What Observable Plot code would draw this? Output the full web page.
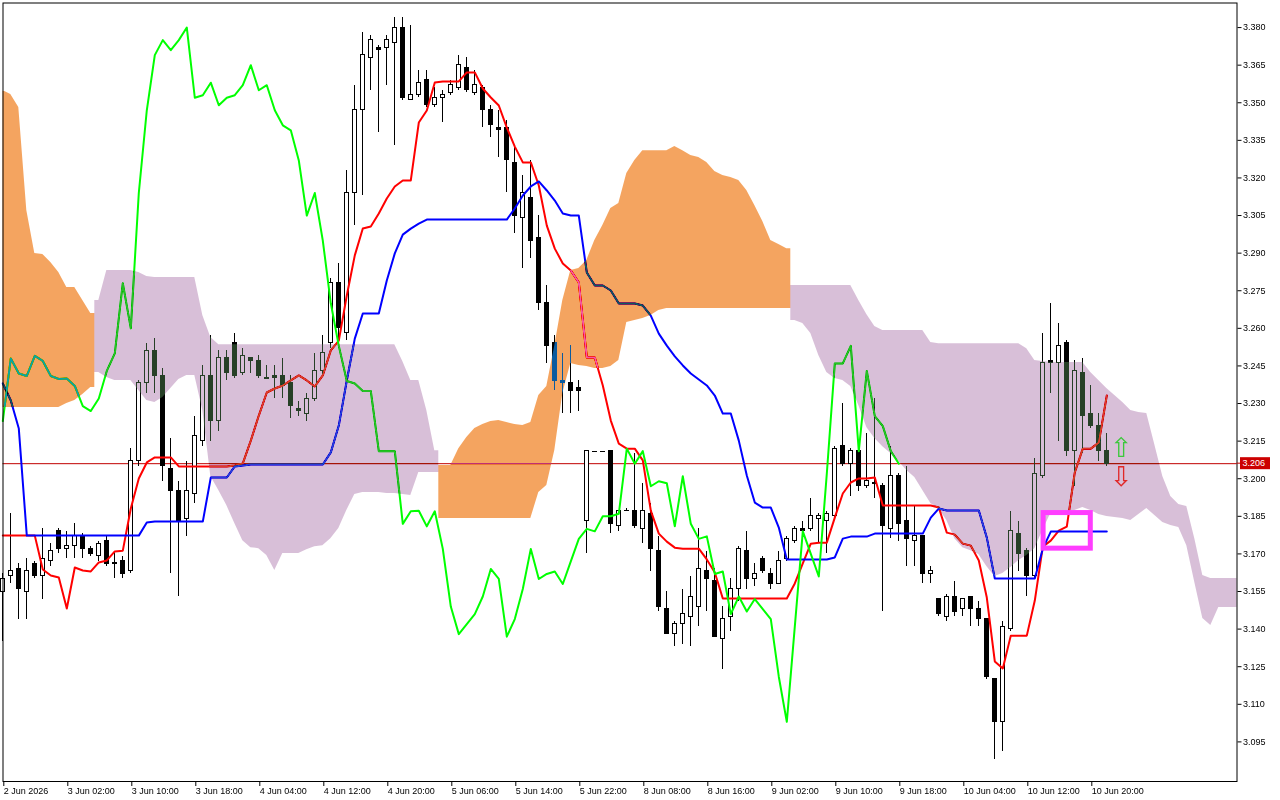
<!DOCTYPE html>
<html><head><meta charset="utf-8">
<script src="https://cdn.jsdelivr.net/npm/d3@7"></script>
<script src="https://cdn.jsdelivr.net/npm/@observablehq/plot@0.6"></script>
<style>
html,body{margin:0;padding:0;background:#fff;}
#chart{width:1280px;height:800px;}
</style></head><body><div id="chart"></div>
<script>
const timeLabels = ["2 Jun 2026","3 Jun 02:00","3 Jun 10:00","3 Jun 18:00","4 Jun 04:00","4 Jun 12:00","4 Jun 20:00","5 Jun 06:00","5 Jun 14:00","5 Jun 22:00","8 Jun 08:00","8 Jun 16:00","9 Jun 02:00","9 Jun 10:00","9 Jun 18:00","10 Jun 04:00","10 Jun 12:00","10 Jun 20:00"];
const labelBars = [0,8,16,24,32,40,48,56,64,72,80,88,96,104,112,120,128,136];
const priceTicks = [3.095,3.110,3.125,3.140,3.155,3.170,3.185,3.200,3.215,3.230,3.245,3.260,3.275,3.290,3.305,3.320,3.335,3.350,3.365,3.380];

const open = [3.155,3.161,3.164,3.155,3.166,3.161,3.167,3.179,3.172,3.173,3.177,3.172,3.169,3.175,3.166,3.167,3.163,3.207,3.238,3.251,
3.241,3.204,3.195,3.184,3.194,3.215,3.241,3.223,3.248,3.254,3.242,3.248,3.247,3.240,3.241,3.241,3.238,3.228,3.226,3.232,
3.243,3.254,3.278,3.258,3.314,3.347,3.368,3.372,3.372,3.374,3.380,3.351,3.353,3.359,3.349,3.352,3.354,3.356,3.364,3.354,
3.356,3.347,3.340,3.340,3.326,3.304,3.312,3.296,3.270,3.254,3.239,3.238,3.236,3.183,3.211,3.211,3.211,3.181,3.187,3.187,
3.180,3.186,3.171,3.148,3.138,3.142,3.145,3.149,3.163,3.159,3.136,3.145,3.156,3.171,3.160,3.168,3.162,3.158,3.168,3.175,
3.180,3.180,3.184,3.183,3.185,3.213,3.206,3.211,3.197,3.198,3.197,3.180,3.201,3.183,3.175,3.177,3.162,3.152,3.145,3.153,
3.148,3.153,3.148,3.144,3.120,3.103,3.140,3.178,3.171,3.161,3.201,3.247,3.246,3.254,3.211,3.242,3.226,3.221,3.211];
const high = [3.162,3.186,3.166,3.168,3.167,3.180,3.174,3.180,3.179,3.182,3.178,3.173,3.175,3.177,3.171,3.169,3.212,3.239,3.254,3.256,
3.244,3.216,3.199,3.207,3.225,3.245,3.257,3.251,3.251,3.258,3.252,3.248,3.249,3.245,3.245,3.248,3.241,3.231,3.234,3.250,
3.257,3.280,3.286,3.323,3.357,3.378,3.377,3.373,3.377,3.384,3.384,3.381,3.363,3.363,3.356,3.355,3.359,3.369,3.368,3.363,
3.357,3.349,3.347,3.343,3.332,3.321,3.327,3.305,3.277,3.257,3.250,3.253,3.239,3.211,3.211,3.211,3.211,3.187,3.188,3.210,
3.198,3.190,3.177,3.155,3.143,3.156,3.161,3.180,3.171,3.164,3.149,3.160,3.173,3.179,3.166,3.169,3.164,3.171,3.177,3.181,
3.183,3.192,3.186,3.187,3.213,3.230,3.212,3.212,3.218,3.232,3.198,3.213,3.202,3.205,3.189,3.177,3.165,3.152,3.154,3.159,
3.152,3.153,3.151,3.144,3.120,3.143,3.187,3.183,3.172,3.208,3.258,3.270,3.262,3.255,3.247,3.248,3.237,3.226,3.218];
const low = [3.135,3.158,3.144,3.144,3.160,3.152,3.165,3.170,3.168,3.168,3.168,3.169,3.167,3.165,3.160,3.160,3.162,3.205,3.234,3.234,
3.199,3.162,3.153,3.177,3.190,3.213,3.215,3.219,3.239,3.240,3.241,3.242,3.240,3.2395,3.232,3.232,3.224,3.225,3.223,3.231,
3.241,3.252,3.255,3.255,3.301,3.313,3.355,3.338,3.357,3.333,3.351,3.351,3.352,3.348,3.348,3.342,3.353,3.355,3.354,3.353,
3.340,3.336,3.328,3.314,3.298,3.284,3.288,3.267,3.246,3.235,3.226,3.226,3.227,3.170,3.211,3.211,3.178,3.179,3.187,3.180,
3.174,3.163,3.147,3.138,3.133,3.134,3.133,3.141,3.147,3.137,3.124,3.139,3.151,3.156,3.157,3.162,3.156,3.158,3.167,3.174,
3.178,3.179,3.174,3.170,3.184,3.205,3.193,3.195,3.196,3.192,3.147,3.176,3.175,3.165,3.165,3.158,3.158,3.145,3.143,3.145,
3.145,3.141,3.141,3.120,3.088,3.091,3.139,3.163,3.153,3.160,3.200,3.234,3.215,3.209,3.197,3.210,3.220,3.207,3.205];
const close = [3.160,3.163,3.156,3.163,3.161,3.168,3.171,3.172,3.173,3.177,3.172,3.170,3.174,3.166,3.1665,3.162,3.207,3.238,3.251,3.241,
3.205,3.195,3.183,3.195,3.217,3.241,3.223,3.248,3.242,3.241,3.249,3.247,3.241,3.2398,3.240,3.237,3.229,3.227,3.232,3.243,
3.250,3.278,3.260,3.314,3.347,3.369,3.375,3.371,3.375,3.380,3.352,3.353,3.358,3.349,3.352,3.353,3.357,3.365,3.355,3.357,
3.347,3.341,3.339,3.327,3.305,3.314,3.295,3.270,3.253,3.239,3.238,3.235,3.235,3.211,3.211,3.211,3.182,3.187,3.1872,3.181,
3.187,3.172,3.149,3.138,3.142,3.146,3.153,3.164,3.160,3.137,3.144,3.156,3.172,3.160,3.162,3.163,3.158,3.167,3.176,3.180,
3.179,3.185,3.185,3.186,3.212,3.206,3.211,3.197,3.199,3.1982,3.181,3.201,3.182,3.176,3.177,3.162,3.163,3.146,3.153,3.147,
3.152,3.148,3.144,3.121,3.103,3.141,3.179,3.170,3.161,3.202,3.246,3.246,3.253,3.211,3.243,3.225,3.221,3.211,3.206];

const tenkan = [3.1773,3.1773,3.1773,3.1773,3.1773,3.1638,3.1614,3.1606,3.1482,3.1646,3.1634,3.1630,3.1666,3.1674,3.1710,3.1713,3.1881,3.2001,3.2065,3.2085,
3.2085,3.2085,3.2049,3.2049,3.2049,3.2049,3.2049,3.2049,3.2049,3.2053,3.2061,3.2152,3.2252,3.2344,3.2360,3.2372,3.2392,3.2412,3.2392,3.2368,
3.2412,3.2512,3.2551,3.2731,3.2891,3.2998,3.3006,3.3058,3.3118,3.3166,3.3190,3.3190,3.3421,3.3469,3.3581,3.3585,3.3585,3.3585,3.3621,3.3621,
3.3557,3.3521,3.3489,3.3401,3.3325,3.3262,3.3262,3.3170,3.3010,3.2918,3.2859,3.2831,3.2783,3.2484,3.2484,3.2372,3.2232,3.2140,3.2120,3.2120,
3.2073,3.1873,3.1781,3.1749,3.1725,3.1721,3.1721,3.1721,3.1678,3.1626,3.1522,3.1522,3.1522,3.1522,3.1522,3.1522,3.1522,3.1522,3.1522,3.1582,
3.1662,3.1741,3.1745,3.1745,3.1845,3.1941,3.1985,3.2001,3.2001,3.2005,3.1893,3.1893,3.1893,3.1893,3.1893,3.1893,3.1893,3.1885,3.1785,3.1777,
3.1741,3.1733,3.1674,3.1526,3.1271,3.1243,3.1374,3.1374,3.1374,3.1514,3.1729,3.1753,3.1793,3.1809,3.2025,3.2120,3.2120,3.2144,3.2332];
const kijun = [3.2380,3.2312,3.2200,3.1773,3.1773,3.1773,3.1773,3.1773,3.1773,3.1773,3.1773,3.1773,3.1773,3.1773,3.1773,3.1773,3.1773,3.1773,3.1825,3.1829,
3.1829,3.1829,3.1829,3.1829,3.1829,3.1829,3.2005,3.2005,3.2005,3.2049,3.2053,3.2057,3.2057,3.2057,3.2057,3.2057,3.2057,3.2057,3.2057,3.2057,
3.2057,3.2105,3.2212,3.2392,3.2559,3.2659,3.2659,3.2659,3.2791,3.2899,3.2974,3.2998,3.3018,3.3034,3.3034,3.3034,3.3034,3.3034,3.3034,3.3034,
3.3034,3.3034,3.3034,3.3034,3.3078,3.3130,3.3166,3.3186,3.3150,3.3110,3.3058,3.3050,3.3050,3.2823,3.2771,3.2771,3.2751,3.2699,3.2699,3.2699,
3.2691,3.2651,3.2579,3.2531,3.2488,3.2452,3.2420,3.2396,3.2372,3.2332,3.2260,3.2260,3.2152,3.2013,3.1905,3.1885,3.1885,3.1805,3.1678,3.1678,
3.1678,3.1678,3.1678,3.1678,3.1686,3.1761,3.1769,3.1769,3.1769,3.1781,3.1781,3.1781,3.1781,3.1781,3.1781,3.1781,3.1845,3.1881,3.1873,3.1873,
3.1873,3.1873,3.1873,3.1765,3.1602,3.1602,3.1602,3.1602,3.1602,3.1602,3.1721,3.1789,3.1789,3.1789,3.1789,3.1789,3.1789,3.1789,3.1789];

const spanA = [3.3549,3.3533,3.3481,3.3070,3.2899,3.2895,3.2863,3.2823,3.2763,3.2763,3.2711,3.2659,3.2424,3.2404,3.2392,3.2392,3.2392,3.2352,3.2312,3.2304,
3.2324,3.2360,3.2396,3.2412,3.2412,3.2272,3.2009,3.1953,3.1893,3.1821,3.1753,3.1725,3.1721,3.1694,3.1634,3.1702,3.1702,3.1702,3.1717,3.1729,
3.1733,3.1761,3.1801,3.1873,3.1937,3.1945,3.1945,3.1945,3.1941,3.1941,3.1937,3.1933,3.2025,3.2025,3.2025,3.2053,3.2053,3.2120,3.2164,3.2200,
3.2216,3.2228,3.2232,3.2224,3.2216,3.2212,3.2224,3.2332,3.2368,3.2531,3.2711,3.2831,3.2839,3.2871,3.2950,3.3010,3.3078,3.3098,3.3218,3.3270,
3.3309,3.3309,3.3309,3.3309,3.3325,3.3309,3.3290,3.3282,3.3262,3.3226,3.3210,3.3202,3.3190,3.3150,3.3090,3.3026,3.2950,3.2934,3.2918,3.2631,
3.2619,3.2579,3.2492,3.2424,3.2400,3.2392,3.2368,3.2292,3.2204,3.2160,3.2128,3.2101,3.2069,3.2033,3.2005,3.1953,3.1901,3.1881,3.1833,3.1761,
3.1725,3.1713,3.1698,3.1650,3.1610,3.1622,3.1646,3.1674,3.1694,3.1721,3.1793,3.1861,3.1865,3.1869,3.1873,3.1885,3.1873,3.1857,3.1849,3.1845,
3.1841,3.1833,3.1857,3.1881,3.1853,3.1825,3.1813,3.1805,3.1733,3.1586,3.1442,3.1414,3.1486,3.1486,3.1486];
const spanB = [3.2284,3.2284,3.2284,3.2284,3.2284,3.2284,3.2284,3.2284,3.2300,3.2312,3.2336,3.2364,3.2711,3.2831,3.2831,3.2831,3.2831,3.2823,3.2807,3.2803,
3.2803,3.2803,3.2803,3.2803,3.2803,3.2651,3.2563,3.2535,3.2535,3.2535,3.2535,3.2535,3.2535,3.2535,3.2535,3.2535,3.2535,3.2535,3.2535,3.2535,
3.2535,3.2535,3.2535,3.2535,3.2535,3.2535,3.2535,3.2535,3.2535,3.2535,3.2468,3.2392,3.2392,3.2272,3.2112,3.1841,3.1841,3.1841,3.1841,3.1841,
3.1841,3.1841,3.1841,3.1841,3.1841,3.1841,3.1841,3.1945,3.1973,3.2113,3.2340,3.2460,3.2452,3.2448,3.2440,3.2440,3.2448,3.2472,3.2623,3.2631,
3.2639,3.2651,3.2671,3.2679,3.2679,3.2679,3.2679,3.2679,3.2679,3.2679,3.2679,3.2679,3.2679,3.2679,3.2679,3.2679,3.2679,3.2679,3.2679,3.2771,
3.2771,3.2771,3.2771,3.2771,3.2771,3.2771,3.2771,3.2711,3.2655,3.2607,3.2591,3.2591,3.2591,3.2591,3.2591,3.2591,3.2543,3.2539,3.2539,3.2539,
3.2539,3.2539,3.2539,3.2539,3.2539,3.2539,3.2539,3.2539,3.2519,3.2472,3.2468,3.2464,3.2464,3.2464,3.2464,3.2464,3.2424,3.2392,3.2360,3.2332,
3.2304,3.2272,3.2264,3.2260,3.2136,3.2009,3.1929,3.1897,3.1889,3.1761,3.1614,3.1602,3.1602,3.1602,3.1602];

const lastPrice = 3.206;
const chikouShift = 26;
const signalBox = [{x1: 130.1, x2: 136.0, y1: 3.1721, y2: 3.1863}];
const arrows = [{x: 139.8, y: 3.2122, glyph: "\u21E7", color: "#3cc83c"}, {x: 139.8, y: 3.2007, glyph: "\u21E9", color: "#e02828"}];

const xDomain = [0.025, 154.275];
const yDomain = [3.0792, 3.3898];

// build tables
const candles = open.map((o, i) => ({i, open: o, high: high[i], low: low[i], close: close[i]}));
const dojis = candles.filter(d => Math.abs(d.open - d.close) < 0.0006);
const tenkanData = tenkan.map((v, i) => ({i, v}));
const kijunData = kijun.map((v, i) => ({i, v}));
const chikouData = candles.filter(d => d.i >= chikouShift).map(d => ({i: d.i - chikouShift, v: d.close}));

const runs = [];
spanA.forEach((a, i) => {
  const p = {i, a, b: spanB[i], up: a >= spanB[i]};
  const last = runs[runs.length - 1];
  if (last && last.up === p.up) last.pts.push(p); else runs.push({up: p.up, pts: [p]});
});
const cloudRows = [];
runs.forEach((r, k) => {
  const f = r.pts[0], l = r.pts[r.pts.length - 1];
  cloudRows.push({run: k, up: r.up, x: Math.max(f.i - 0.5, xDomain[0]), a: f.a, b: f.b});
  r.pts.forEach(p => { if (p.i < xDomain[1]) cloudRows.push({run: k, up: r.up, x: p.i, a: p.a, b: p.b}); });
  cloudRows.push({run: k, up: r.up, x: Math.min(l.i + 0.5, xDomain[1]), a: l.a, b: l.b});
});

const upFill = "#0b5b9f";   // inverse of sandybrown, blended by difference
const downFill = "#274027"; // inverse of thistle, blended by difference

const chart = Plot.plot({
  width: 1280, height: 800,
  marginLeft: 2.5, marginRight: 43.5, marginTop: 2.5, marginBottom: 19,
  x: {type: "linear", domain: xDomain, axis: null},
  y: {type: "linear", domain: yDomain, axis: null},
  style: {fontFamily: "'Liberation Sans', Arial, sans-serif", fontSize: "9px", background: "white", color: "black"},
  marks: [
    Plot.frame({fill: "white"}),
    Plot.ruleY([lastPrice], {stroke: "#c00000", strokeWidth: 1}),
    Plot.ruleX(candles, {x: "i", y1: "low", y2: "high", stroke: "black", strokeWidth: 1, shapeRendering: "crispEdges"}),
    Plot.rect(candles, {x1: d => d.i - 0.25, x2: d => d.i + 0.25, y1: "open", y2: "close",
      fill: d => d.close >= d.open ? "white" : "black", stroke: "black", strokeWidth: 1, shapeRendering: "crispEdges"}),
    Plot.ruleY(dojis, {y: "close", x1: d => d.i - 0.3, x2: d => d.i + 0.3, stroke: "black", strokeWidth: 1, shapeRendering: "crispEdges"}),
    Plot.line(tenkanData, {x: "i", y: "v", stroke: "#ff0000", strokeWidth: 2}),
    Plot.line(kijunData, {x: "i", y: "v", stroke: "#0000ff", strokeWidth: 2}),
    Plot.line(chikouData, {x: "i", y: "v", stroke: "#00ff00", strokeWidth: 2}),
    Plot.areaY(cloudRows.filter(d => d.up), {x: "x", y1: "a", y2: "b", z: "run", fill: upFill, mixBlendMode: "difference"}),
    Plot.areaY(cloudRows.filter(d => !d.up), {x: "x", y1: "a", y2: "b", z: "run", fill: downFill, mixBlendMode: "difference"}),
    Plot.rect(signalBox, {x1: "x1", x2: "x2", y1: "y1", y2: "y2", fill: "none", stroke: "#ff3dff", strokeWidth: 5}),
    Plot.text(arrows, {x: "x", y: "y", text: "glyph", fill: "color", fontSize: 27, fontFamily: "'DejaVu Sans'"}),
    Plot.frame({stroke: "black", strokeWidth: 1}),
    Plot.axisY({anchor: "right", ticks: priceTicks, tickFormat: d3.format(".3f"), tickSize: 4, tickPadding: 2, label: null}),
    Plot.axisX({anchor: "bottom", ticks: labelBars, tickFormat: d => timeLabels[labelBars.indexOf(d)], tickSize: 5, tickPadding: 1, textAnchor: "start", dx: 1, label: null})
  ]
});

document.getElementById("chart").appendChild(chart);

const svg = d3.select(chart);
// make sure the cloud blends with what lies beneath it
svg.selectAll("g, path").filter(function () {
  const f = this.getAttribute("fill");
  return f === upFill || f === downFill;
}).style("mix-blend-mode", "difference");

// current price marker on the price axis
const yPos = chart.scale("y").apply(lastPrice);
const xEnd = chart.scale("x").range[1];
svg.append("line").attr("x1", xEnd).attr("x2", xEnd + 4).attr("y1", yPos).attr("y2", yPos).attr("stroke", "#c00000");
svg.append("rect").attr("x", xEnd + 3.5).attr("y", yPos - 6).attr("width", 30).attr("height", 12).attr("fill", "#cc0000");
svg.append("text").attr("x", xEnd + 6).attr("y", yPos).attr("dy", "0.35em").attr("fill", "white")
  .attr("text-anchor", "start")
  .attr("font-family", "'Liberation Sans', Arial, sans-serif").attr("font-size", 9).text(d3.format(".3f")(lastPrice));
</script>
</body></html>
